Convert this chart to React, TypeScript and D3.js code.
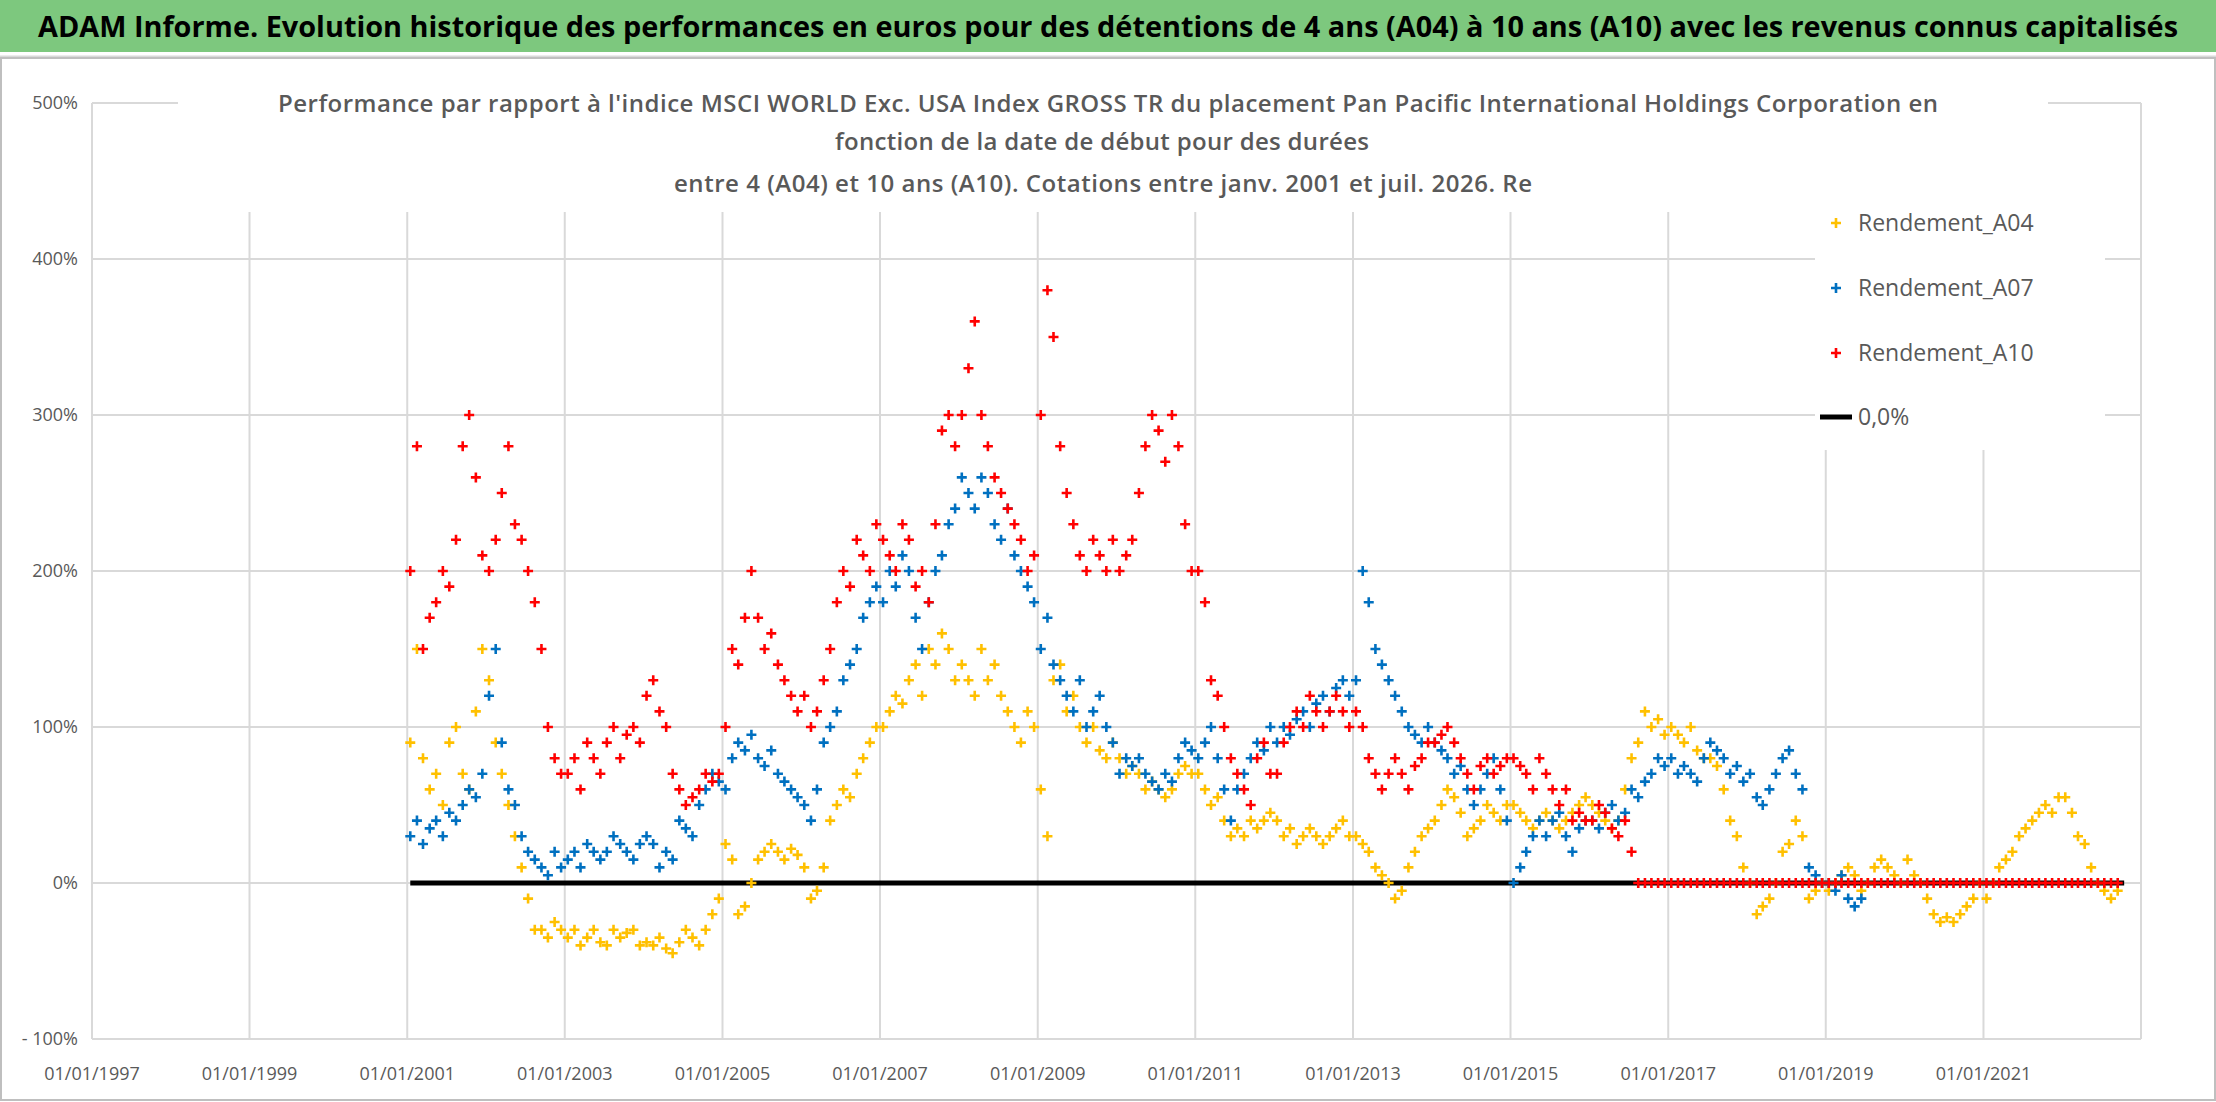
import React from "react";
import * as d3 from "d3";

const A04: number[] = [
  90,150,80,60,70,50,90,100,70,60,110,150,
  130,90,70,50,30,10,-10,-30,-30,-35,-25,-30,
  -35,-30,-40,-35,-30,-38,-40,-30,-35,-32,-30,-40,
  -38,-40,-35,-42,-45,-38,-30,-35,-40,-30,-20,-10,
  25,15,-20,-15,0,15,20,25,20,15,22,18,
  10,-10,-5,10,40,50,60,55,70,80,90,100,
  100,110,120,115,130,140,120,150,140,160,150,130,
  140,130,120,150,130,140,120,110,100,90,110,100,
  60,30,130,140,110,120,100,90,100,85,80,90,
  80,70,75,70,60,65,60,55,60,70,75,70,
  70,60,50,55,40,30,35,30,40,35,40,45,
  40,30,35,25,30,35,30,25,30,35,40,30,
  30,25,20,10,5,0,-10,-5,10,20,30,35,
  40,50,60,55,45,30,35,40,50,45,40,50,
  50,45,40,35,40,45,40,35,40,45,50,55,
  50,45,40,35,40,60,80,90,110,100,105,95,
  100,95,90,100,85,80,80,75,60,40,30,10,
  0,-20,-15,-10,0,20,25,40,30,-10,-5,0,
  -5,0,5,10,5,-5,0,10,15,10,5,0,
  15,5,0,-10,-20,-25,-22,-25,-20,-15,-10,0,
  -10,0,10,15,20,30,35,40,45,50,45,55,
  55,45,30,25,10,0,-5,-10,-5,
];
const A07: number[] = [
  30,40,25,35,40,30,45,40,50,60,55,70,
  120,150,90,60,50,30,20,15,10,5,20,10,
  15,20,10,25,20,15,20,30,25,20,15,25,
  30,25,10,20,15,40,35,30,50,60,70,65,
  60,80,90,85,95,80,75,85,70,65,60,55,
  50,40,60,90,100,110,130,140,150,170,180,190,
  180,200,190,210,200,170,150,180,200,210,230,240,
  260,250,240,260,250,230,220,240,210,200,190,180,
  150,170,140,130,120,110,130,100,110,120,100,90,
  70,80,75,80,70,65,60,70,65,80,90,85,
  80,90,100,80,60,40,60,70,80,90,85,100,
  90,100,95,105,110,100,115,120,110,125,130,120,
  130,200,180,150,140,130,120,110,100,95,90,100,
  90,85,80,70,75,60,50,60,70,80,60,40,
  0,10,20,30,40,30,40,45,30,20,35,40,
  40,35,45,50,40,45,60,55,65,70,80,75,
  80,70,75,70,65,80,90,85,80,70,75,65,
  70,55,50,60,70,80,85,70,60,10,5,0,
  0,-5,5,-10,-15,-10,
];
const A10: number[] = [
  200,280,150,170,180,200,190,220,280,300,260,210,
  200,220,250,280,230,220,200,180,150,100,80,70,
  70,80,60,90,80,70,90,100,80,95,100,90,
  120,130,110,100,70,60,50,55,60,70,65,70,
  100,150,140,170,200,170,150,160,140,130,120,110,
  120,100,110,130,150,180,200,190,220,210,200,230,
  220,210,200,230,220,190,200,180,230,290,300,280,
  300,330,360,300,280,260,250,240,230,220,200,210,
  300,380,350,280,250,230,210,200,220,210,200,220,
  200,210,220,250,280,300,290,270,300,280,230,200,
  200,180,130,120,100,80,70,60,50,80,90,70,
  70,90,100,110,100,120,110,100,110,120,110,100,
  110,100,80,70,60,70,80,70,60,75,80,90,
  90,95,100,90,80,70,60,75,80,70,75,80,
  80,75,70,60,80,70,60,50,60,40,45,40,
  40,50,45,35,30,40,20,0,
  0,0,0,0,0,0,0,0,0,0,0,0,
  0,0,0,0,0,0,0,0,0,0,0,0,
  0,0,0,0,0,0,0,0,0,0,0,0,
  0,0,0,0,0,0,0,0,0,0,0,0,
  0,0,0,0,0,0,0,0,0,0,0,0,
  0,0,0,0,0,0,0,0,0,0,0,0,
  0,
];
const yTicks = [500, 400, 300, 200, 100, 0, -100];
const xTickYears = [1997, 1999, 2001, 2003, 2005, 2007, 2009, 2011, 2013, 2015, 2017, 2019, 2021];
const seriesNames = ["Rendement_A04", "Rendement_A07", "Rendement_A10"];
const colors = ["#FFC000", "#0070C0", "#FF0000"];

const W = 2216, H = 1102;
const x = d3.scaleTime().domain([new Date(1997, 0, 1), new Date(2023, 0, 1)]).range([92, 2141]);
const y = d3.scaleLinear().domain([-100, 500]).range([1039, 103]);
const start = new Date(2001, 0, 15);
const dateOf = (i: number) => d3.timeMonth.offset(start, i);

function Plus({ cx, cy, c }: { cx: number; cy: number; c: string }) {
  const s = 5;
  return <path d={`M${cx - s},${cy}H${cx + s}M${cx},${cy - s}V${cy + s}`} stroke={c} strokeWidth={2.6} />;
}

export default function App() {
  const gray = "#595959";
  const all = [A04, A07, A10];
  return (
    <svg width={W} height={H} style={{ position: "absolute", left: 0, top: 0, background: "#fff" }} fontFamily="'Open Sans', sans-serif">
      <rect x={0} y={0} width={W} height={H} fill="#fff" />
      <rect x={0} y={0} width={W} height={52} fill="#7DC87E" />
      <line x1={0} x2={W} y1={57} y2={57} stroke="#d9d9d9" strokeWidth={3} />
      <text x={1108} y={37} textAnchor="middle" fontSize={28} fontWeight="bold" fill="#000" textLength={2140} lengthAdjust="spacingAndGlyphs">
        ADAM Informe. Evolution historique des performances en euros pour des détentions de 4 ans (A04) à 10 ans (A10) avec les revenus connus capitalisés
      </text>
      {yTicks.map((t) => (
        <g key={t}>
          <line x1={92} x2={2141} y1={y(t)} y2={y(t)} stroke="#d9d9d9" strokeWidth={2} />
          <text x={78} y={y(t) + 6} textAnchor="end" fontSize={18} fill={gray}>{t < 0 ? `- ${Math.abs(t)}%` : `${t}%`}</text>
        </g>
      ))}
      {xTickYears.map((yr) => (
        <g key={yr}>
          <line x1={x(new Date(yr, 0, 1))} x2={x(new Date(yr, 0, 1))} y1={103} y2={1039} stroke="#d9d9d9" strokeWidth={2} />
          <text x={x(new Date(yr, 0, 1))} y={1080} textAnchor="middle" fontSize={18} fill={gray}>{`01/01/${yr}`}</text>
        </g>
      ))}
      <line x1={x(new Date(2023, 0, 1))} x2={x(new Date(2023, 0, 1))} y1={103} y2={1039} stroke="#d9d9d9" strokeWidth={2} />
      <rect x={178} y={88} width={1870} height={124} fill="#fff" />
      <g fontSize={24} fontWeight={600} fill={gray} textAnchor="middle">
        <text x={1108} y={112} textLength={1660} lengthAdjust="spacing">Performance par rapport à l'indice MSCI WORLD Exc. USA Index GROSS TR  du placement Pan Pacific International Holdings Corporation en</text>
        <text x={1102} y={150} textLength={534} lengthAdjust="spacing">fonction de la date de début pour des durées</text>
        <text x={1103} y={192} textLength={858} lengthAdjust="spacing">entre 4 (A04) et 10 ans (A10). Cotations entre janv. 2001 et juil. 2026. Re</text>
      </g>
      <line x1={x(new Date(2001, 0, 15))} x2={x(new Date(2022, 9, 15))} y1={y(0)} y2={y(0)} stroke="#000" strokeWidth={5} />
      {all.map((arr, si) => (
        <g key={si}>
          {arr.map((v, i) => <Plus key={i} cx={x(dateOf(i))} cy={y(v)} c={colors[si]} />)}
        </g>
      ))}
      <rect x={1815} y={198} width={290} height={252} fill="#fff" />
      {seriesNames.map((n, i) => (
        <g key={n}>
          <Plus cx={1836} cy={223 + i * 65} c={colors[i]} />
          <text x={1858} y={231 + i * 65} fontSize={23} fill={gray}>{n}</text>
        </g>
      ))}
      <line x1={1820} x2={1852} y1={417} y2={417} stroke="#000" strokeWidth={5} />
      <text x={1858} y={425} fontSize={23} fill={gray}>0,0%</text>
      <rect x={1} y={58} width={W - 2} height={H - 60} fill="none" stroke="#bfbfbf" strokeWidth={2} />
    </svg>
  );
}
